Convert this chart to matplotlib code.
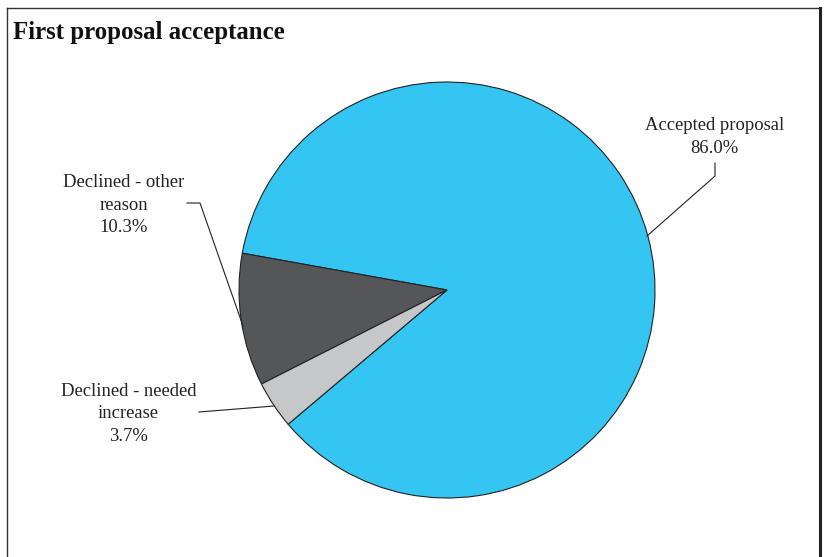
import matplotlib
matplotlib.use("Agg")
import matplotlib.pyplot as plt
from matplotlib.lines import Line2D

# ---- data ----
categories = ["Accepted proposal", "Declined - other\nreason", "Declined - needed\nincrease"]
shares = [86.0, 10.3, 3.7]
colors = ["#35C5F2", "#545658", "#C6C7C8"]
title = "First proposal acceptance"

W, H = 827, 557
fig = plt.figure(figsize=(W / 100, H / 100), dpi=100)
ax = fig.add_axes([0, 0, 1, 1])
ax.set_xlim(0, W)
ax.set_ylim(0, H)
ax.set_aspect("equal")
ax.axis("off")

def P(x, y):
    return (x, H - y)

cx, cy = P(447, 290)
ax.pie(shares, colors=colors, startangle=220.2, counterclock=True,
       center=(cx, cy), radius=208,
       wedgeprops=dict(edgecolor="#222222", linewidth=0.8))
ax.set_xlim(0, W)
ax.set_ylim(0, H)

font = dict(family="Liberation Serif", size=13.4, color="#222222")

# label positions (pixel layout) and leader lines
label_pos = [(714.5, 137), (123.5, 205), (128.5, 414)]
leaders = [
    [(715, 163), (715, 176), (647, 236)],
    [(187, 203), (200, 203), (243, 326)],
    [(199, 412), (274, 406)],
]
for cat, val, (lx, ly), pts in zip(categories, shares, label_pos, leaders):
    ax.text(*P(lx, ly), f"{cat}\n{val:.1f}%", ha="center", va="center",
            linespacing=1.42, **font)
    xs = [p[0] for p in pts]
    ys = [H - p[1] for p in pts]
    ax.plot(xs, ys, color="#222222", lw=0.8)

# title
fig.text(13 / W, 1 - 33 / H, title, ha="left", va="center",
         family="Liberation Serif", fontweight="bold", fontsize=17.9, color="#111111")

# frame (left, top, right; bottom is cut off)
fig.add_artist(Line2D([7 / W, 7 / W], [0, 1 - 8 / H], transform=fig.transFigure, color="#333333", lw=1.0))
fig.add_artist(Line2D([7 / W, 820 / W], [1 - 8 / H, 1 - 8 / H], transform=fig.transFigure, color="#333333", lw=1.0))
fig.add_artist(Line2D([820 / W, 820 / W], [0, 1 - 8 / H], transform=fig.transFigure, color="#222222", lw=2.2))

fig.savefig("out.png", dpi=100)
